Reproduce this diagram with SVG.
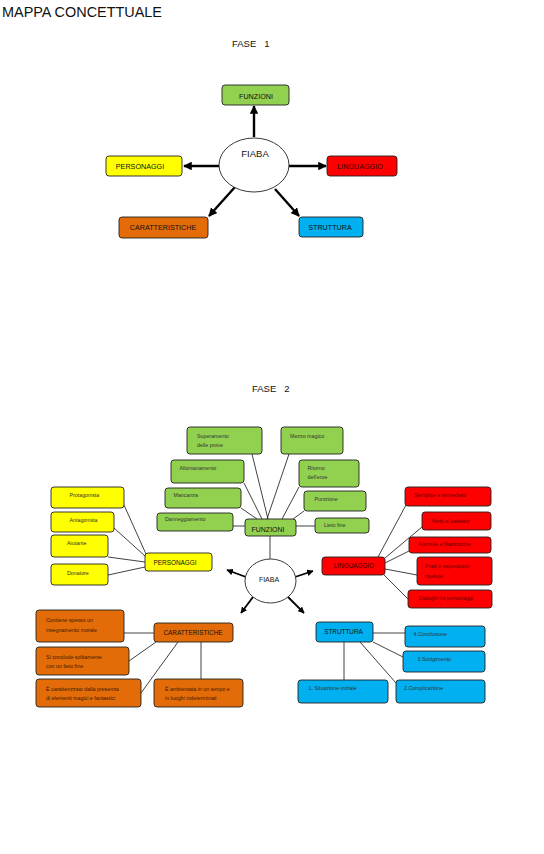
<svg xmlns="http://www.w3.org/2000/svg" width="544" height="854" viewBox="0 0 544 854">
<style>
text{font-family:"Liberation Sans",Arial,sans-serif;fill:#111}
.b{stroke:#222;stroke-width:0.9}
.g{fill:#92D050}.y{fill:#FFFF00}.r{fill:#FF0000}.o{fill:#E36C09}.c{fill:#00B0F0}
.t1{font-size:7.2px;text-anchor:middle}
.t2{font-size:5.3px;fill:#333}
.tr{font-size:5.3px;fill:#600000}
.to{font-size:5.3px;fill:#3a1a00}
.h2{font-size:6.4px;text-anchor:middle}
.ln{stroke:#111;stroke-width:0.8;fill:none}
.ar1{stroke:#000;stroke-width:2.4;fill:none;marker-end:url(#ah)}
.ar2{stroke:#000;stroke-width:1.8;fill:none;marker-end:url(#ah)}
</style>
<defs>
<marker id="ah" viewBox="0 0 10 10" refX="9" refY="5" markerWidth="3.6" markerHeight="3.6" orient="auto" markerUnits="strokeWidth">
<path d="M0,0 L10,5 L0,10 z" fill="#000"/>
</marker>
</defs>
<rect width="544" height="854" fill="#fff"/>
<text x="2" y="17" font-size="14.4" textLength="160" lengthAdjust="spacingAndGlyphs">MAPPA CONCETTUALE</text>
<text x="232" y="47" font-size="9.5" xml:space="preserve">FASE   1</text>
<text x="252" y="392" font-size="9.5" xml:space="preserve">FASE   2</text>

<!-- Phase 1 connectors -->
<g id="connectors1">
<line class="ar1" x1="254" y1="137" x2="254" y2="106"/>
<line class="ar1" x1="219" y1="166" x2="184" y2="166"/>
<line class="ar1" x1="289" y1="166" x2="326" y2="166"/>
<line class="ar1" x1="235" y1="187" x2="209" y2="216"/>
<line class="ar1" x1="275" y1="189" x2="299" y2="216"/>
</g>
<g id="fiaba1"><ellipse cx="254" cy="165" rx="35" ry="27" fill="#fff" stroke="#222" stroke-width="0.9"/><text x="255" y="157" font-size="9.5" text-anchor="middle">FIABA</text></g>
<g id="funzioni1"><rect class="b g" x="222" y="85" width="67" height="20" rx="3"/><text class="t1" x="256" y="98.5">FUNZIONI</text></g>
<g id="personaggi1"><rect class="b y" x="106" y="156" width="76" height="20" rx="3"/><text class="t1" x="140" y="169">PERSONAGGI</text></g>
<g id="linguaggio1"><rect class="b r" x="327" y="156" width="70" height="20" rx="3"/><text class="t1" x="360" y="169" style="fill:#3a0000">LINGUAGGIO</text></g>
<g id="caratteristiche1"><rect class="b o" x="119" y="217" width="89" height="21" rx="3"/><text class="t1" x="163" y="230">CARATTERISTICHE</text></g>
<g id="struttura1"><rect class="b c" x="299" y="217" width="64" height="20" rx="3"/><text class="t1" x="330" y="230">STRUTTURA</text></g>

<!-- Phase 2 connectors -->
<g id="connectors2">
<line class="ln" x1="270" y1="536" x2="270" y2="559"/>
<line class="ar2" x1="246" y1="577" x2="227" y2="570"/>
<line class="ar2" x1="295" y1="577" x2="313" y2="571"/>
<line class="ar2" x1="253" y1="597" x2="241" y2="613"/>
<line class="ar2" x1="288" y1="597" x2="304" y2="613"/>
<!-- funzioni -->
<line class="ln" x1="252" y1="454" x2="268" y2="519"/>
<line class="ln" x1="244" y1="483" x2="262" y2="519"/>
<line class="ln" x1="241" y1="508" x2="257" y2="519"/>
<line class="ln" x1="233" y1="526" x2="245" y2="526"/>
<line class="ln" x1="289" y1="454" x2="267" y2="519"/>
<line class="ln" x1="299" y1="487" x2="282" y2="519"/>
<line class="ln" x1="304" y1="511" x2="293" y2="519"/>
<line class="ln" x1="296" y1="526" x2="315" y2="526"/>
<!-- personaggi -->
<line class="ln" x1="124" y1="505" x2="146" y2="554"/>
<line class="ln" x1="114" y1="528" x2="145" y2="556"/>
<line class="ln" x1="108" y1="557" x2="145" y2="562"/>
<line class="ln" x1="108" y1="575" x2="145" y2="567"/>
<!-- linguaggio -->
<line class="ln" x1="378" y1="557" x2="406" y2="505"/>
<line class="ln" x1="385" y1="558" x2="422" y2="527"/>
<line class="ln" x1="385" y1="563" x2="409" y2="551"/>
<line class="ln" x1="385" y1="569" x2="417" y2="575"/>
<line class="ln" x1="384" y1="575" x2="409" y2="600"/>
<!-- caratteristiche -->
<line class="ln" x1="124" y1="633" x2="154" y2="633"/>
<line class="ln" x1="129" y1="661" x2="156" y2="642"/>
<line class="ln" x1="141" y1="693" x2="178" y2="642"/>
<line class="ln" x1="201" y1="642" x2="201" y2="679"/>
<!-- struttura -->
<line class="ln" x1="373" y1="633" x2="405" y2="633"/>
<line class="ln" x1="373" y1="642" x2="403" y2="657"/>
<line class="ln" x1="360" y1="642" x2="396" y2="683"/>
<line class="ln" x1="344" y1="642" x2="344" y2="680"/>
</g>

<g id="fiaba2"><ellipse cx="270.5" cy="581" rx="25.5" ry="22" fill="#fff" stroke="#222" stroke-width="0.9"/><text x="269" y="582" font-size="7" text-anchor="middle">FIABA</text></g>

<g id="funzioni2"><rect class="b g" x="245" y="519" width="51" height="17" rx="3"/><text class="h2" x="268" y="531.5" style="font-size:7px">FUNZIONI</text></g>
<g id="superamento"><rect class="b g" x="187" y="427" width="75" height="27" rx="3"/><text class="t2" x="197" y="437.5">Superamento</text><text class="t2" x="197" y="446.5">delle prove</text></g>
<g id="allontanamento"><rect class="b g" x="171" y="460" width="73" height="23" rx="3"/><text class="t2" x="179.5" y="470">Allontanamento</text></g>
<g id="mancanza"><rect class="b g" x="165" y="488" width="76" height="20" rx="3"/><text class="t2" x="173.5" y="497">Mancanza</text></g>
<g id="danneggiamento"><rect class="b g" x="157" y="513" width="76" height="18" rx="3"/><text class="t2" x="165" y="521">Danneggiamento</text></g>
<g id="mezzo"><rect class="b g" x="281" y="427" width="62" height="27" rx="3"/><text class="t2" x="290" y="437.5">Mezzo magico</text></g>
<g id="ritorno"><rect class="b g" x="299" y="460" width="60" height="27" rx="3"/><text class="t2" x="307.5" y="470">Ritorno</text><text class="t2" x="307.5" y="479">dell'eroe</text></g>
<g id="punizione"><rect class="b g" x="304" y="491" width="62" height="20" rx="3"/><text class="t2" x="314.5" y="501">Punizione</text></g>
<g id="lieto"><rect class="b g" x="315" y="518" width="54" height="15" rx="3"/><text class="t2" x="324" y="527">Lieto fine</text></g>

<g id="personaggi2"><rect class="b y" x="145" y="553" width="67" height="18" rx="3"/><text class="h2" x="175" y="564.5">PERSONAGGI</text></g>
<g id="protagonista"><rect class="b y" x="51" y="487" width="73" height="21" rx="3"/><text class="t2" x="69.5" y="497">Protagonista</text></g>
<g id="antagonista"><rect class="b y" x="51" y="512" width="63" height="20" rx="3"/><text class="t2" x="69.5" y="522">Antagonista</text></g>
<g id="aiutante"><rect class="b y" x="51" y="535" width="57" height="22" rx="3"/><text class="t2" x="67" y="544.5">Aiutante</text></g>
<g id="donatore"><rect class="b y" x="51" y="564" width="57" height="21" rx="3"/><text class="t2" x="67" y="574.5">Donatore</text></g>

<g id="linguaggio2"><rect class="b r" x="322" y="557" width="63" height="18" rx="3"/><text class="h2" x="354" y="567.5" style="fill:#3a0000">LINGUAGGIO</text></g>
<g id="semplice"><rect class="b r" x="405" y="487" width="86" height="19" rx="3"/><text class="tr" x="414" y="497">Semplice e immediato</text></g>
<g id="verbi"><rect class="b r" x="422" y="512" width="69" height="18" rx="3"/><text class="tr" x="431.5" y="523">Verbi al passato</text></g>
<g id="formule"><rect class="b r" x="409" y="537" width="82" height="16" rx="3"/><text class="tr" x="418.5" y="546">Formule e filastrocche</text></g>
<g id="frasi"><rect class="b r" x="417" y="557" width="75" height="28" rx="3"/><text class="tr" x="425" y="567.5">Frasi o espressioni</text><text class="tr" x="425" y="577.5">ripetute</text></g>
<g id="dialoghi"><rect class="b r" x="408" y="590" width="84" height="18" rx="3"/><text class="tr" x="418.5" y="599.5">Dialoghi tra personaggi</text></g>

<g id="caratteristiche2"><rect class="b o" x="154" y="623" width="79" height="19" rx="3"/><text class="h2" x="193" y="635">CARATTERISTICHE</text></g>
<g id="contiene"><rect class="b o" x="36" y="610" width="88" height="32" rx="3"/><text class="to" x="46" y="622">Contiene spesso un</text><text class="to" x="46" y="632">insegnamento morale</text></g>
<g id="conclude"><rect class="b o" x="36" y="647" width="93" height="28" rx="3"/><text class="to" x="46" y="658.5">Si conclude solitamente</text><text class="to" x="46" y="667.5">con un lieto fine</text></g>
<g id="magici"><rect class="b o" x="36" y="679" width="105" height="28" rx="3"/><text class="to" x="46" y="691">È caratterizzato dalla presenza</text><text class="to" x="46" y="700">di elementi magici e fantastici</text></g>
<g id="ambientata"><rect class="b o" x="154" y="679" width="89" height="28" rx="3"/><text class="to" x="165" y="691">È ambientata in un tempo e</text><text class="to" x="165" y="700">in luoghi indeterminati</text></g>

<g id="struttura2"><rect class="b c" x="316" y="622" width="57" height="20" rx="3"/><text class="h2" x="343.5" y="634">STRUTTURA</text></g>
<g id="conclusione"><rect class="b c" x="405" y="626" width="80" height="21" rx="3"/><text class="t2" x="413.5" y="636">4.Conclusione</text></g>
<g id="svolgimento"><rect class="b c" x="403" y="651" width="82" height="21" rx="3"/><text class="t2" x="417.5" y="661">3.Svolgimento</text></g>
<g id="situazione"><rect class="b c" x="298" y="680" width="90" height="23" rx="3"/><text class="t2" x="308.5" y="689.5">1. Situazione iniziale</text></g>
<g id="complicazione"><rect class="b c" x="396" y="680" width="89" height="23" rx="3"/><text class="t2" x="404" y="689.5">2.Complicazione</text></g>
</svg>
